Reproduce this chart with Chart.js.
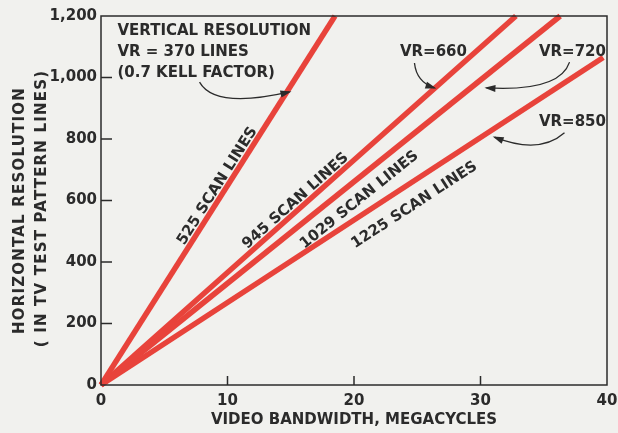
<!DOCTYPE html>
<html>
<head>
<meta charset="utf-8">
<script src="https://cdn.jsdelivr.net/npm/chart.js@4.4.0/dist/chart.umd.min.js"></script>
<style>
  html, body { margin: 0; padding: 0; background: #f1f1ee; }
  #wrap { width: 618px; height: 433px; }
</style>
</head>
<body>
<div id="wrap"><canvas id="chart" width="618" height="433"></canvas></div>
<script>
// scan line standards and the vertical resolution they give
const scanLines = [525, 945, 1029, 1225];
const verticalRes = [370, 660, 720, 850];
// each line runs from the origin to this end point
const endBandwidth = [18.5, 32.8, 36.3, 39.7];
const endResolution = [1200, 1200, 1200, 1065];
const xTicks = [0, 10, 20, 30, 40];
const yTicks = [0, 200, 400, 600, 800, 1000, 1200];

const RED = '#e8433b';
const INK = '#2b2b2b';
const FONT = 'bold 15px "DejaVu Sans"';

const datasets = scanLines.map((n, i) => ({
    label: n + ' SCAN LINES',
    data: [{ x: 0, y: 0 }, { x: endBandwidth[i], y: endResolution[i] }],
    showLine: true,
    borderColor: RED,
    borderWidth: 5.5,
    pointRadius: 0,
    clip: 8
}));

function arrow(ctx, p0, c, p2) {
    ctx.beginPath();
    ctx.moveTo(p0[0], p0[1]);
    ctx.quadraticCurveTo(c[0], c[1], p2[0], p2[1]);
    ctx.stroke();
    const a = Math.atan2(p2[1] - c[1], p2[0] - c[0]);
    ctx.save();
    ctx.translate(p2[0], p2[1]);
    ctx.rotate(a);
    ctx.beginPath();
    ctx.moveTo(2, 0);
    ctx.lineTo(-9, -3.5);
    ctx.lineTo(-9, 3.5);
    ctx.closePath();
    ctx.fill();
    ctx.restore();
}

const decor = {
    id: 'decor',
    beforeDraw(chart) {
        const { ctx, width, height } = chart;
        ctx.save();
        ctx.fillStyle = '#f1f1ee';
        ctx.fillRect(0, 0, width, height);
        ctx.restore();
    },
    afterDatasetsDraw(chart) {
        const { ctx, chartArea: ca, scales: { x, y } } = chart;
        const P = (vx, vy) => [x.getPixelForValue(vx), y.getPixelForValue(vy)];
        ctx.save();
        // frame
        ctx.strokeStyle = INK;
        ctx.lineWidth = 1.5;
        ctx.strokeRect(ca.left, ca.top, ca.right - ca.left, ca.bottom - ca.top);
        // inward ticks
        ctx.beginPath();
        yTicks.slice(1, -1).forEach(v => {
            const py = y.getPixelForValue(v);
            ctx.moveTo(ca.left, py);
            ctx.lineTo(ca.left + 11, py);
        });
        xTicks.slice(1, -1).forEach(v => {
            const px = x.getPixelForValue(v);
            ctx.moveTo(px, ca.bottom);
            ctx.lineTo(px, ca.bottom - 9);
        });
        ctx.stroke();

        ctx.fillStyle = INK;
        ctx.font = FONT;

        // y axis title, two lines, a little letter spaced
        ctx.save();
        ctx.letterSpacing = '1.2px';
        ctx.textAlign = 'center';
        ctx.textBaseline = 'middle';
        const midY = (ca.top + ca.bottom) / 2;
        ctx.translate(20, midY + 10);
        ctx.rotate(-Math.PI / 2);
        ctx.fillText('HORIZONTAL RESOLUTION', 0, 0);
        ctx.fillText('( IN TV TEST PATTERN LINES)', 2, 22);
        ctx.restore();

        // note block for 525 lines
        ctx.textAlign = 'left';
        ctx.textBaseline = 'alphabetic';
        let p = P(1.3, 1138);
        ctx.fillText('VERTICAL RESOLUTION', p[0], p[1]);
        p = P(1.3, 1070);
        ctx.fillText('VR = ' + verticalRes[0] + ' LINES', p[0], p[1]);
        p = P(1.3, 1002);
        ctx.fillText('(0.7 KELL FACTOR)', p[0], p[1]);

        ctx.textAlign = 'center';
        ctx.textBaseline = 'middle';
        p = P(26.28, 1083);
        ctx.fillText('VR=' + verticalRes[1], p[0], p[1]);
        p = P(37.27, 1083);
        ctx.fillText('VR=' + verticalRes[2], p[0], p[1]);
        p = P(37.27, 855);
        ctx.fillText('VR=' + verticalRes[3], p[0], p[1]);

        // arrows
        ctx.lineWidth = 1.3;
        arrow(ctx, P(7.79, 985), P(9.0, 897), P(14.9, 953));
        arrow(ctx, P(24.78, 1047), P(24.94, 985), P(26.36, 966));
        arrow(ctx, P(37.04, 1050), P(36.25, 953), P(30.47, 966));
        arrow(ctx, P(36.64, 820), P(34.66, 748), P(31.11, 806));

        // labels along the lines
        const centers = [[9.21, 647], [15.38, 598], [20.43, 602], [24.78, 585]];
        scanLines.forEach((n, i) => {
            const a = P(0, 0), b = P(endBandwidth[i], endResolution[i]);
            const ang = Math.atan2(b[1] - a[1], b[0] - a[0]);
            const c = P(centers[i][0], centers[i][1]);
            ctx.save();
            ctx.translate(c[0], c[1]);
            ctx.rotate(ang);
            ctx.fillText(n + ' SCAN LINES', 0, 0);
            ctx.restore();
        });
        ctx.restore();
    }
};

new Chart(document.getElementById('chart'), {
    type: 'scatter',
    data: { datasets },
    options: {
        responsive: false,
        animation: false,
        devicePixelRatio: 1,
        layout: { padding: { top: 16, right: 11, left: 0, bottom: 0 } },
        plugins: { legend: { display: false }, tooltip: { enabled: false } },
        scales: {
            x: {
                type: 'linear',
                min: 0,
                max: 40,
                afterBuildTicks: s => { s.ticks = xTicks.map(v => ({ value: v })); },
                afterFit: s => { s.height = 48; s.paddingLeft = 0; s.paddingRight = 0; },
                grid: { display: false, drawTicks: false },
                border: { display: false },
                ticks: { color: INK, font: { family: 'DejaVu Sans', size: 15, weight: 'bold' }, padding: 7 },
                title: {
                    display: true,
                    text: 'VIDEO BANDWIDTH, MEGACYCLES',
                    color: INK,
                    font: { family: 'DejaVu Sans', size: 15, weight: 'bold' },
                    padding: { top: 0, bottom: 4 }
                }
            },
            y: {
                type: 'linear',
                min: 0,
                max: 1200,
                afterBuildTicks: s => { s.ticks = yTicks.map(v => ({ value: v })); },
                afterFit: s => { s.width = 101; s.paddingTop = 0; s.paddingBottom = 0; },
                grid: { display: false, drawTicks: false },
                border: { display: false },
                ticks: {
                    color: INK,
                    font: { family: 'DejaVu Sans', size: 15, weight: 'bold' },
                    padding: 4,
                    callback: v => v.toLocaleString('en-US')
                }
            }
        }
    },
    plugins: [decor]
});
</script>
</body>
</html>
